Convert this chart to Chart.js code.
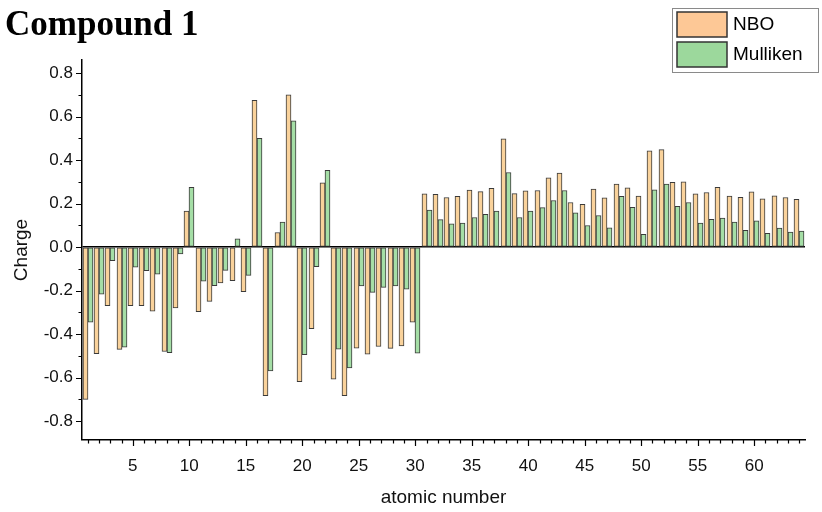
<!DOCTYPE html>
<html>
<head>
<meta charset="utf-8">
<script src="https://cdn.jsdelivr.net/npm/chart.js@4/dist/chart.umd.min.js"></script>
<style>
  html, body { margin: 0; padding: 0; background: #fff; }
  #wrap { width: 822px; height: 512px; position: relative; }
</style>
</head>
<body>
<div id="wrap"><canvas id="c" width="822" height="512"></canvas></div>
<script>
// Atomic charges of Compound 1, per atom (1..64)
const atoms = Array.from({ length: 64 }, (_, i) => String(i + 1));

const nboCharge = [
  -0.700, -0.490, -0.270, -0.470, -0.270, -0.270, -0.295, -0.480, -0.280, 0.165,
  -0.297, -0.250, -0.165, -0.155, -0.205, 0.675, -0.683, 0.067, 0.700, -0.619,
  -0.375, 0.295, -0.607, -0.683, -0.465, -0.492, -0.457, -0.466, -0.454, -0.345,
  0.245, 0.243, 0.228, 0.233, 0.262, 0.255, 0.270, 0.498, 0.246, 0.258,
  0.260, 0.318, 0.340, 0.205, 0.196, 0.267, 0.226, 0.290, 0.272, 0.234,
  0.442, 0.448, 0.298, 0.300, 0.245, 0.251, 0.275, 0.234, 0.229, 0.254,
  0.222, 0.235, 0.228, 0.219
];

const mullikenCharge = [
  -0.345, -0.217, -0.063, -0.460, -0.093, -0.109, -0.125, -0.486, -0.032, 0.275,
  -0.157, -0.177, -0.107, 0.038, -0.130, 0.500, -0.569, 0.115, 0.580, -0.495,
  -0.090, 0.353, -0.469, -0.556, -0.179, -0.208, -0.185, -0.179, -0.194, -0.488,
  0.170, 0.126, 0.107, 0.110, 0.136, 0.150, 0.165, 0.343, 0.136, 0.165,
  0.181, 0.214, 0.260, 0.157, 0.099, 0.145, 0.088, 0.233, 0.183, 0.058,
  0.263, 0.290, 0.187, 0.205, 0.110, 0.128, 0.133, 0.115, 0.077, 0.121,
  0.063, 0.087, 0.069, 0.073
];

// y tick values (every 0.1; labelled every 0.2)
const yTickValues = [-0.8, -0.7, -0.6, -0.5, -0.4, -0.3, -0.2, -0.1, 0, 0.1, 0.2, 0.3, 0.4, 0.5, 0.6, 0.7, 0.8];
const xLabelStep = 5;

const FONT = "'Liberation Sans', Arial, sans-serif";

// Snap bar centres to half pixels so every outline renders crisply
const crispBars = {
  id: 'crispBars',
  beforeDatasetsDraw(chart) {
    chart.data.datasets.forEach((ds, i) => {
      chart.getDatasetMeta(i).data.forEach(el => {
        el.x = Math.round(el.x - 0.5) + 0.5;
      });
    });
  }
};

// Outward tick marks on both axes, major and minor
const axisTicks = {
  id: 'axisTicks',
  afterDraw(chart) {
    const { ctx, chartArea, scales: { x, y } } = chart;
    ctx.save();
    ctx.strokeStyle = '#000';
    ctx.lineWidth = 1.2;
    ctx.beginPath();
    for (let i = 0; i < atoms.length; i++) {
      const px = Math.round(x.getPixelForValue(i)) + 0.5;
      const major = (i + 1) % xLabelStep === 0;
      ctx.moveTo(px, chartArea.bottom);
      ctx.lineTo(px, chartArea.bottom + (major ? 6 : 3.5));
    }
    yTickValues.forEach(v => {
      const py = Math.round(y.getPixelForValue(v)) + 0.5;
      const major = Math.round(v * 10) % 2 === 0;
      ctx.moveTo(chartArea.left, py);
      ctx.lineTo(chartArea.left - (major ? 6 : 3.5), py);
    });
    ctx.stroke();
    ctx.restore();
  }
};

// Framed legend in the top-right corner
const boxedLegend = {
  id: 'boxedLegend',
  afterDraw(chart) {
    const { ctx } = chart;
    const x0 = 672, y0 = 8, w = 146, rowH = 30;
    const n = chart.data.datasets.length;
    ctx.save();
    ctx.fillStyle = '#fff';
    ctx.fillRect(x0, y0, w, rowH * n + 4);
    ctx.strokeStyle = '#8a8a8a';
    ctx.lineWidth = 1;
    ctx.strokeRect(x0 + 0.5, y0 + 0.5, w, rowH * n + 4);
    chart.data.datasets.forEach((ds, i) => {
      const sy = y0 + 4 + i * rowH;
      ctx.fillStyle = ds.legendColor;
      ctx.fillRect(x0 + 5, sy, 50, 25);
      ctx.strokeStyle = '#333';
      ctx.lineWidth = 1.5;
      ctx.strokeRect(x0 + 5, sy, 50, 25);
      ctx.fillStyle = '#000';
      ctx.font = '19px ' + FONT;
      ctx.textBaseline = 'middle';
      ctx.textAlign = 'left';
      ctx.fillText(ds.label, x0 + 61, sy + 13);
    });
    ctx.restore();
  }
};

new Chart(document.getElementById('c'), {
  type: 'bar',
  data: {
    labels: atoms,
    datasets: [
      {
        label: 'NBO',
        data: nboCharge,
        backgroundColor: '#F9D29B',
        legendColor: '#FDC896',
        borderColor: '#3a3a3a',
        borderWidth: 1,
        borderSkipped: false
      },
      {
        label: 'Mulliken',
        data: mullikenCharge,
        backgroundColor: '#A5DEA6',
        legendColor: '#9CD89C',
        borderColor: '#3a3a3a',
        borderWidth: 1,
        borderSkipped: false
      }
    ]
  },
  options: {
    responsive: false,
    animation: false,
    devicePixelRatio: 1,
    layout: { padding: { left: 5, right: 17, top: 0, bottom: 0 } },
    datasets: { bar: { categoryPercentage: 0.9, barPercentage: 1.0, barThickness: 5 } },
    plugins: {
      legend: { display: false },
      tooltip: { enabled: false },
      title: {
        display: true,
        text: 'Compound 1',
        align: 'start',
        color: '#000',
        font: { family: "'Liberation Serif', 'Times New Roman', serif", size: 35, weight: 'bold', lineHeight: 1.2 },
        padding: { top: 5, bottom: 13 }
      }
    },
    scales: {
      x: {
        type: 'category',
        offset: true,
        grid: { display: false, drawTicks: false },
        border: { display: true, color: '#000', width: 1.5 },
        ticks: {
          autoSkip: false,
          maxRotation: 0,
          padding: 16,
          color: '#111',
          font: { family: FONT, size: 17 },
          callback: (v, i) => ((i + 1) % xLabelStep === 0 ? atoms[i] : '')
        },
        title: {
          display: true,
          text: 'atomic number',
          color: '#111',
          font: { family: FONT, size: 19 },
          padding: { top: 0, bottom: 3 }
        },
        afterFit: s => { s.height = 72; }
      },
      y: {
        min: -0.887,
        max: 0.86,
        afterBuildTicks: s => { s.ticks = yTickValues.map(v => ({ value: v })); },
        grid: {
          drawTicks: false,
          color: c => (c.tick && Math.abs(c.tick.value) < 1e-9 ? '#000' : 'rgba(0,0,0,0)'),
          lineWidth: c => (c.tick && Math.abs(c.tick.value) < 1e-9 ? 1.5 : 0)
        },
        border: { display: true, color: '#000', width: 1.5 },
        ticks: {
          padding: 9,
          color: '#111',
          font: { family: FONT, size: 17 },
          callback: v => (Math.round(v * 10) % 2 === 0 ? v.toFixed(1) : '')
        },
        title: {
          display: true,
          text: 'Charge',
          color: '#111',
          font: { family: FONT, size: 19 },
          padding: { top: 5, bottom: 0 }
        },
        afterFit: s => { s.width = 77; }
      }
    }
  },
  plugins: [crispBars, axisTicks, boxedLegend]
});
</script>
</body>
</html>
